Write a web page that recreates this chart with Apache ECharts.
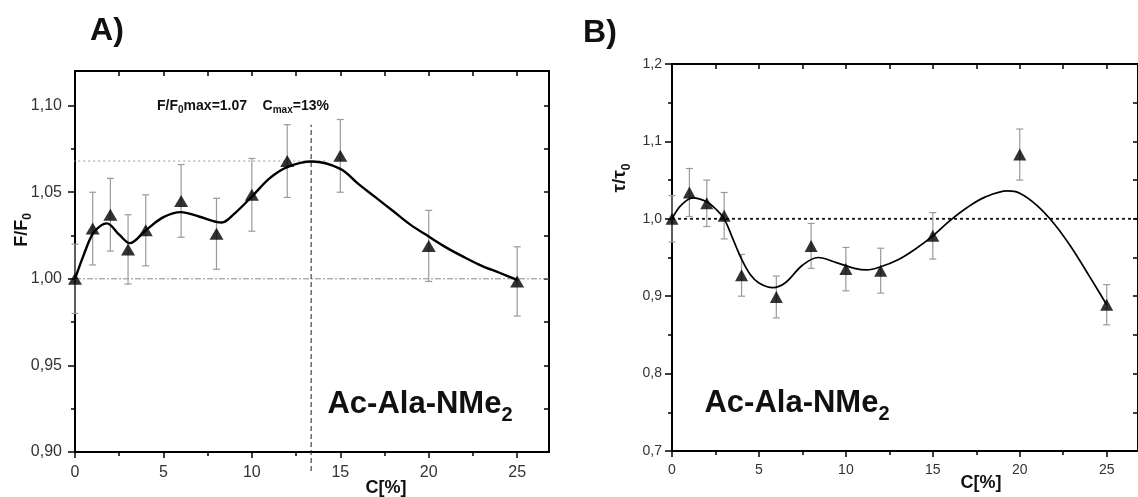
<!DOCTYPE html>
<html><head><meta charset="utf-8">
<script src="https://cdn.jsdelivr.net/npm/echarts@6/dist/echarts.min.js"></script>
<style>html,body{margin:0;padding:0;background:#fff}#c{width:1138px;height:497px}</style>
</head><body><div id="c"></div>
<script>
// ---------- data ----------
const conc = [0, 1, 2, 3, 4, 6, 8, 10, 12, 15, 20, 25];
// Panel A : F/F0
const ratioA = [1.000, 1.029, 1.037, 1.017, 1.028, 1.045, 1.026, 1.0485, 1.068, 1.071, 1.019, 0.9985];
const errA   = [0.020, 0.021, 0.021, 0.020, 0.0205, 0.021, 0.0205, 0.021, 0.021, 0.021, 0.0205, 0.020];
const fitXA = [0, 0.5, 1, 1.5, 1.8, 2.5, 3.1, 4, 5, 6, 7, 8.3, 9, 10, 11, 12, 13.4, 15, 16, 17, 18, 19, 20, 21, 22, 23, 24, 25];
const fitYA = [1.000, 1.014, 1.026, 1.031, 1.032, 1.0255, 1.0206, 1.028, 1.0356, 1.0385, 1.036, 1.0325, 1.0375, 1.0475, 1.058, 1.0645, 1.0677, 1.0635, 1.055, 1.047, 1.039, 1.031, 1.0244, 1.018, 1.0125, 1.0075, 1.0035, 0.9994];
const baseA = 1.00;          // dash-dot reference line
const fmaxA = 1.068;         // dotted level of the maximum
const cmaxA = 13.35;         // dashed position of the maximum
const fmaxLineX = [-0.95, 14.2];
const cmaxLineY = [0.889, 1.089];
// Panel B : tau/tau0
const ratioB = [1.000, 1.034, 1.020, 1.004, 0.927, 0.899, 0.965, 0.935, 0.933, 0.978, 1.083, 0.889];
const errB   = [0.030, 0.031, 0.030, 0.030, 0.027, 0.027, 0.029, 0.028, 0.029, 0.030, 0.033, 0.026];
const fitXB = [0, 0.5, 1.2, 2, 2.5, 3, 3.5, 4, 4.5, 5, 5.8, 6.5, 7.5, 8.4, 9.5, 10.5, 11.2, 12, 13, 14, 15, 16, 17, 18, 19.3, 20, 21, 22, 23, 24, 25];
const fitYB = [1.000, 1.017, 1.027, 1.022, 1.013, 1.000, 0.974, 0.948, 0.928, 0.917, 0.911, 0.917, 0.940, 0.950, 0.943, 0.936, 0.934, 0.938, 0.947, 0.961, 0.978, 0.998, 1.015, 1.028, 1.036, 1.033, 1.017, 0.993, 0.962, 0.926, 0.889];
const baseB = 1.0;
// axes / ticks
const xRange = [0, 26.8];
const xMajor = [0, 5, 10, 15, 20, 25];
const xMinor = [2.5, 7.5, 12.5, 17.5, 22.5];
const yRangeA = [0.9, 1.12];
const yMajorA = [0.90, 0.95, 1.00, 1.05, 1.10];
const yMinorA = [0.925, 0.975, 1.025, 1.075];
const yRangeB = [0.7, 1.2];
const yMajorB = [0.7, 0.8, 0.9, 1.0, 1.1, 1.2];
const yMinorB = [0.75, 0.85, 0.95, 1.05, 1.15];

// ---------- helpers ----------
const FONT = 'Liberation Sans, Arial, Helvetica, sans-serif';
const LBL = '#333';
function zip(a, b) { return a.map((v, i) => [v, b[i]]); }
function xAxes(g, labelSize, labelMargin) {
  const base = { gridIndex: g, type: 'value', min: xRange[0], max: xRange[1], splitLine: { show: false } };
  return [
    Object.assign({}, base, { position: 'bottom',
      axisLine: { show: true, onZero: false, lineStyle: { color: '#000', width: 2 } },
      axisTick: { show: true, inside: false, length: 6, customValues: xMajor, lineStyle: { color: '#000', width: 1.5 } },
      axisLabel: { show: true, customValues: xMajor, margin: labelMargin, color: LBL, fontSize: labelSize, fontFamily: FONT } }),
    Object.assign({}, base, { position: 'bottom',
      axisLine: { show: false, onZero: false },
      axisTick: { show: true, inside: false, length: 4, customValues: xMinor, lineStyle: { color: '#000', width: 1.5 } },
      axisLabel: { show: false } }),
    Object.assign({}, base, { position: 'top',
      axisLine: { show: true, onZero: false, lineStyle: { color: '#000', width: 2 } },
      axisTick: { show: true, inside: true, length: 5, customValues: xMajor.concat(xMinor), lineStyle: { color: '#000', width: 1.5 } },
      axisLabel: { show: false } })
  ];
}
function yAxes(g, range, major, minor, digits, labelSize, labelMargin) {
  const base = { gridIndex: g, type: 'value', min: range[0], max: range[1], splitLine: { show: false } };
  return [
    Object.assign({}, base, { position: 'left',
      axisLine: { show: true, onZero: false, lineStyle: { color: '#000', width: 2 } },
      axisTick: { show: true, inside: false, length: 7, customValues: major, lineStyle: { color: '#000', width: 1.5 } },
      axisLabel: { show: true, customValues: major, margin: labelMargin, color: LBL, fontSize: labelSize, fontFamily: FONT,
        formatter: v => v.toFixed(digits).replace('.', ',') } }),
    Object.assign({}, base, { position: 'left',
      axisLine: { show: false, onZero: false },
      axisTick: { show: true, inside: false, length: 4, customValues: minor, lineStyle: { color: '#000', width: 1.5 } },
      axisLabel: { show: false } }),
    Object.assign({}, base, { position: 'right',
      axisLine: { show: true, onZero: false, lineStyle: { color: '#000', width: 2 } },
      axisTick: { show: true, inside: true, length: 5, customValues: major.concat(minor), lineStyle: { color: '#000', width: 1.5 } },
      axisLabel: { show: false } })
  ];
}
function errRender(params, api) {
  const x = api.value(0), lo = api.value(1), hi = api.value(2);
  const p1 = api.coord([x, hi]), p2 = api.coord([x, lo]);
  const hw = 3.5, st = { stroke: '#9a9a9a', lineWidth: 1.2 };
  return { type: 'group', children: [
    { type: 'line', shape: { x1: p1[0], y1: p1[1], x2: p2[0], y2: p2[1] }, style: st },
    { type: 'line', shape: { x1: p1[0] - hw, y1: p1[1], x2: p1[0] + hw, y2: p1[1] }, style: st },
    { type: 'line', shape: { x1: p2[0] - hw, y1: p2[1], x2: p2[0] + hw, y2: p2[1] }, style: st }
  ]};
}
function errData(xs, vs, es) { return xs.map((x, i) => [x, vs[i] - es[i], vs[i] + es[i]]); }

function richText(x, y, text, size, weight, subSize, rot, extra) {
  return Object.assign({
    type: 'text', x: x, y: y, rotation: rot || 0, z: 100,
    style: {
      text: text, fill: '#111', fontFamily: FONT, fontSize: size, fontWeight: weight,
      align: 'center', verticalAlign: 'middle', lineHeight: Math.round(size * 1.35),
      rich: { s: { fontSize: subSize, fontWeight: weight, fontFamily: FONT, fill: '#111', verticalAlign: 'bottom', lineHeight: subSize } }
    }
  }, extra || {});
}

const chart = echarts.init(document.getElementById('c'), null, { renderer: 'canvas' });
const option = {
  animation: false,
  backgroundColor: '#fff',
  grid: [
    { left: 75, top: 71, right: 1138 - 549, bottom: 497 - 452, containLabel: false },
    { left: 672, top: 64, right: -4, bottom: 497 - 451, containLabel: false }
  ],
  xAxis: xAxes(0, 16, 13).concat(xAxes(1, 14, 12)),
  yAxis: yAxes(0, yRangeA, yMajorA, yMinorA, 2, 16, 13).concat(yAxes(1, yRangeB, yMajorB, yMinorB, 1, 14, 10)),
  series: [
    // ---- panel A ----
    { type: 'line', xAxisIndex: 0, yAxisIndex: 0, data: [[xRange[0], baseA], [xRange[1], baseA]], symbol: 'none', silent: true,
      lineStyle: { color: '#8a8a8a', width: 1, type: [6, 2, 2, 2] }, z: 1 },
    { type: 'line', xAxisIndex: 0, yAxisIndex: 0, data: [[fmaxLineX[0], fmaxA], [fmaxLineX[1], fmaxA]], symbol: 'none', silent: true, clip: false,
      lineStyle: { color: '#999', width: 1, type: [2, 3] }, z: 1 },
    { type: 'line', xAxisIndex: 0, yAxisIndex: 0, data: [[cmaxA, cmaxLineY[0]], [cmaxA, cmaxLineY[1]]], symbol: 'none', silent: true, clip: false,
      lineStyle: { color: '#222', width: 1, type: [5, 3] }, z: 1 },
    { type: 'custom', xAxisIndex: 0, yAxisIndex: 0, renderItem: errRender, data: errData(conc, ratioA, errA),
      encode: { x: 0, y: [1, 2] }, clip: false, z: 2 },
    { type: 'line', xAxisIndex: 0, yAxisIndex: 0, data: zip(fitXA, fitYA), smooth: 0.35, symbol: 'none',
      lineStyle: { color: '#000', width: 2.4 }, z: 3 },
    { type: 'scatter', xAxisIndex: 0, yAxisIndex: 0, data: zip(conc, ratioA), symbol: 'triangle', symbolSize: [14, 12],
      itemStyle: { color: '#000' }, clip: false, z: 4 },
    // ---- panel B ----
    { type: 'line', xAxisIndex: 3, yAxisIndex: 3, data: [[xRange[0], baseB], [xRange[1], baseB]], symbol: 'none', silent: true,
      lineStyle: { color: '#111', width: 1.8, type: [3, 3] }, z: 1 },
    { type: 'custom', xAxisIndex: 3, yAxisIndex: 3, renderItem: errRender, data: errData(conc, ratioB, errB),
      encode: { x: 0, y: [1, 2] }, clip: false, z: 2 },
    { type: 'line', xAxisIndex: 3, yAxisIndex: 3, data: zip(fitXB, fitYB), smooth: 0.35, symbol: 'none',
      lineStyle: { color: '#000', width: 1.7 }, z: 3 },
    { type: 'scatter', xAxisIndex: 3, yAxisIndex: 3, data: zip(conc, ratioB), symbol: 'triangle', symbolSize: [13, 12],
      itemStyle: { color: '#000' }, clip: false, z: 4 }
  ],
  graphic: [
    richText(107, 31, 'A)', 32, 'bold', 20),
    richText(600, 33, 'B)', 32, 'bold', 20),
    richText(22, 230, 'F/F{s|0}', 18, 'bold', 12, Math.PI / 2),
    richText(620, 178, 'τ/τ{s|0}', 19, 'bold', 12, Math.PI / 2),
    richText(386, 488, 'C[%]', 18, 'bold', 12),
    richText(981, 483, 'C[%]', 18, 'bold', 12),
    richText(243, 106, 'F/F{s|0}max=1.07    C{s|max}=13%', 14, 'bold', 10),
    richText(420, 404, 'Ac-Ala-NMe{s|2}', 31, 'bold', 20),
    richText(797, 403, 'Ac-Ala-NMe{s|2}', 31, 'bold', 20)
  ]
};
chart.setOption(option);
</script>
</body></html>
